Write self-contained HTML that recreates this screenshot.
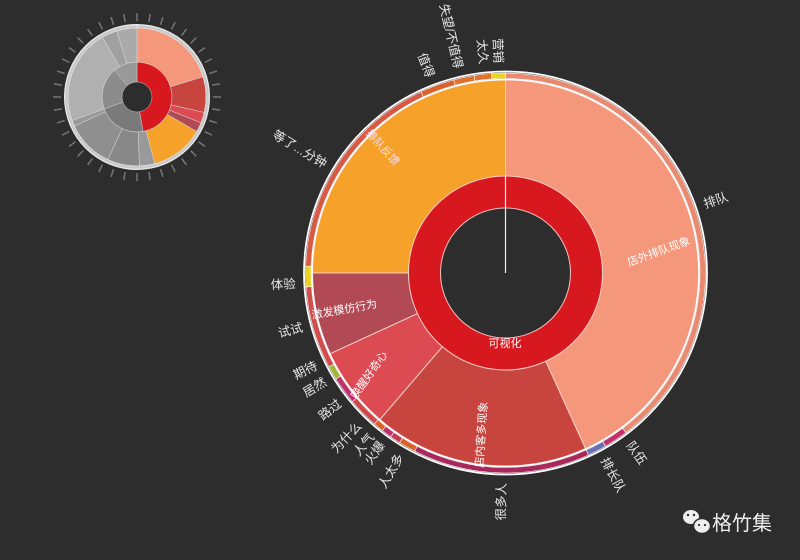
<!DOCTYPE html>
<html><head><meta charset="utf-8"><style>
html,body{margin:0;padding:0;background:#2d2d2d;}
svg{display:block;}
text{font-family:"Liberation Sans","Noto Sans CJK SC",sans-serif;}
</style></head><body>
<svg id="s" width="800" height="560" viewBox="0 0 800 560" xmlns="http://www.w3.org/2000/svg">
<rect width="800" height="560" fill="#2d2d2d"/>
<g id="small"></g>
<g id="main"></g>
<g id="labels" font-size="12.5" fill="#e6e6e6">
</g>
<g font-size="11" fill="#fff">
<text x="0" y="0" transform="translate(660,255) rotate(-20)" text-anchor="middle">店外排队现象</text>
<text x="0" y="0" transform="translate(485,435) rotate(-86)" text-anchor="middle">店内客多现象</text>
<text x="0" y="0" transform="translate(372,377) rotate(-55)" text-anchor="middle">唤醒好奇心</text>
<text x="0" y="0" transform="translate(345,313) rotate(-10)" text-anchor="middle">激发模仿行为</text>
<text x="0" y="0" transform="translate(380,150) rotate(48)" text-anchor="middle" fill="#fde">排队反馈</text>
<text x="505" y="347" text-anchor="middle">可视化</text>
</g>
<g fill="#eee">
<ellipse cx="691" cy="517" rx="8" ry="7"/>
<ellipse cx="702" cy="526" rx="8.5" ry="7.5" stroke="#2d2d2d" stroke-width="1.5"/>
<circle cx="688" cy="515" r="1.2" fill="#2d2d2d"/><circle cx="694" cy="515" r="1.2" fill="#2d2d2d"/>
<circle cx="699" cy="525" r="1.1" fill="#2d2d2d"/><circle cx="705" cy="525" r="1.1" fill="#2d2d2d"/>
<text x="712" y="530" font-size="20">格竹集</text>
</g>
</svg>
<script>
const NS="http://www.w3.org/2000/svg";
function arc(cx,cy,r0,r1,a0,a1){
 const rad=a=>(a-90)*Math.PI/180;
 const p=(r,a)=>[cx+r*Math.cos(rad(a)),cy+r*Math.sin(rad(a))];
 const large=(a1-a0)>180?1:0;
 const A=p(r1,a0),B=p(r1,a1),C=p(r0,a1),D=p(r0,a0);
 return `M${A[0]},${A[1]}A${r1},${r1} 0 ${large} 1 ${B[0]},${B[1]}L${C[0]},${C[1]}A${r0},${r0} 0 ${large} 0 ${D[0]},${D[1]}Z`;
}
function add(g,d,fill,stroke,sw){const e=document.createElementNS(NS,"path");e.setAttribute("d",d);e.setAttribute("fill",fill);if(stroke){e.setAttribute("stroke",stroke);e.setAttribute("stroke-width",sw||1);}g.appendChild(e);}
function circ(g,cx,cy,r,stroke,sw){const e=document.createElementNS(NS,"circle");e.setAttribute("cx",cx);e.setAttribute("cy",cy);e.setAttribute("r",r);e.setAttribute("fill","none");e.setAttribute("stroke",stroke);e.setAttribute("stroke-width",sw);g.appendChild(e);}
const M=document.getElementById("main"),cx=505.5,cy=273;
add(M,arc(cx,cy,65,97,0,359.99),"#d7191f");
circ(M,cx,cy,65,"#f0c0c0",1);
const ln=document.createElementNS(NS,"line");ln.setAttribute("x1",cx);ln.setAttribute("y1",cy);ln.setAttribute("x2",cx);ln.setAttribute("y2",cy-97);ln.setAttribute("stroke","#eee");ln.setAttribute("stroke-width",1.2);M.appendChild(ln);
[[0,155.5,"#f4977b"],[155.5,220.6,"#c8453f"],[220.6,245.3,"#dc4a52"],[245.3,270,"#b24a56"],[270,360,"#f5a12a"]].forEach(s=>add(M,arc(cx,cy,97,193,s[0],s[1]),s[2],"#f3d0c8",1));
[[0,143,"#e98a70"],[143,150,"#c4306a"],[150,155.5,"#6a70b4"],[155.5,207,"#a8285c"],[207,212,"#d9622b"],[212,215,"#c43a50"],[215,218,"#c0306a"],[218,221,"#d9622b"],[221,230,"#d24848"],[230,238,"#c0306a"],[238,242,"#a4b432"],[242,266,"#d24c4c"],[266,272,"#e8d420"],[272,335,"#d65a44"],[335,345,"#d9622b"],[345,351,"#e0702c"],[351,356,"#e0702c"],[356,360,"#ecd424"]].forEach(s=>add(M,arc(cx,cy,194.5,200,s[0],s[1]),s[2],"#fff",0.6));
circ(M,cx,cy,193.5,"#fff",1.5);circ(M,cx,cy,201.5,"#fff",1.8);
const L=document.getElementById("labels");
[["营销",358],["太久",354],["失望/不值得",347],["值得",339],["等了...分钟",301],["体验",267],["试试",255],["期待",244],["居然",239],["路过",232],["为什么",224],["人气",219.5],["火爆",216],["人太多",210],["很多人",181],["排长队",152],["队伍",144],["排队",71]].forEach(([t,a])=>{
 const r=210,ra=(a-90)*Math.PI/180,x=cx+r*Math.cos(ra),y=cy+r*Math.sin(ra);
 const e=document.createElementNS(NS,"text");e.textContent=t;
 let rot,anc;if(a<180){rot=a-90;anc="start";}else{rot=a-270;anc="end";}
 e.setAttribute("transform",`translate(${x},${y}) rotate(${rot})`);e.setAttribute("text-anchor",anc);e.setAttribute("dy","4");L.appendChild(e);
});
const S=document.getElementById("small"),sx=137,sy=97;
[[0,170,"#d7191f"],[170,250,"#7a7a7a"],[250,320,"#8c8c8c"],[320,360,"#999"]].forEach(s=>add(S,arc(sx,sy,15,35,s[0],s[1]),s[2],"#ccc",0.5));
[[0,73,"#f4977b"],[73,103,"#c8453f"],[103,112,"#dc4a52"],[112,120,"#b24a56"],[120,165,"#f5a12a"],[165,178,"#999"],[178,205,"#888"],[205,245,"#8f8f8f"],[245,250,"#999"],[250,330,"#b0b0b0"],[330,343,"#a0a0a0"],[343,360,"#aaa"]].forEach(s=>add(S,arc(sx,sy,35,69,s[0],s[1]),s[2],"#ddd",0.5));
add(S,arc(sx,sy,69,72,0,359.99),"#c9c9c9","#eee",0.5);
circ(S,sx,sy,72.5,"#eee",1);
for(let a=0;a<360;a+=9){const ra=(a-90)*Math.PI/180;const l=document.createElementNS(NS,"line");l.setAttribute("x1",sx+76*Math.cos(ra));l.setAttribute("y1",sy+76*Math.sin(ra));l.setAttribute("x2",sx+84*Math.cos(ra));l.setAttribute("y2",sy+84*Math.sin(ra));l.setAttribute("stroke","#777");l.setAttribute("stroke-width",1.5);S.appendChild(l);}
</script>
</body></html>
